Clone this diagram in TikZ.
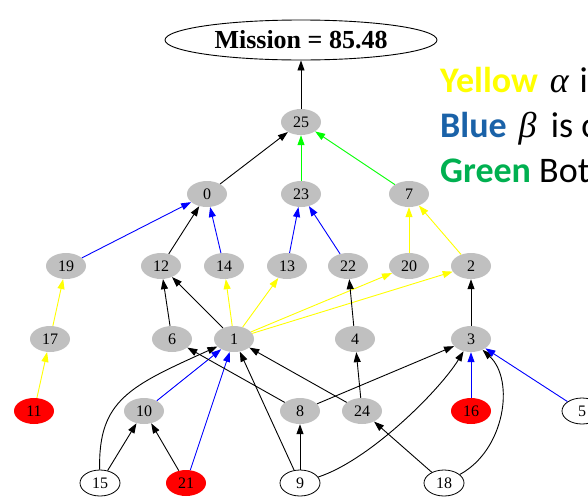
\documentclass[tikz,border=0pt]{standalone}
\usepackage{fontspec}
\setmainfont{Liberation Serif}
\newfontfamily\slidefont{Carlito}
\usepackage{tikz}
\usetikzlibrary{arrows.meta,shapes.geometric}
\definecolor{nodegray}{HTML}{C0C0C0}
\definecolor{edgeyellow}{HTML}{FFFF00}
\definecolor{edgeblue}{HTML}{0000FF}
\definecolor{edgegreen}{HTML}{00FF00}
\definecolor{keyyellow}{HTML}{FFFF00}
\definecolor{keyblue}{HTML}{1A62A8}
\definecolor{keygreen}{HTML}{00B050}

\begin{document}
\begin{tikzpicture}[
    x=1pt, y=-1pt,
    task/.style={ellipse, fill=nodegray, minimum width=40pt, minimum height=26pt, inner sep=0pt, font=\fontsize{16}{16}\selectfont},
    leaf/.style={task, fill=white, draw=black, line width=0.8pt},
    fault/.style={task, fill=red},
    mission/.style={ellipse, draw=black, fill=white, line width=0.9pt, minimum width=272pt, minimum height=40pt, inner sep=0pt, font=\fontsize{26}{26}\selectfont\bfseries},
    key/.style={anchor=base west, inner sep=0pt, font=\slidefont\fontsize{36}{36}\selectfont},
    arrow/.style={-{Triangle[length=10pt,width=7pt]}, line width=0.9pt, black},
    ylink/.style={arrow, edgeyellow},
    blink/.style={arrow, edgeblue},
    glink/.style={arrow, edgegreen}
]
    \useasboundingbox (0,0) rectangle (588,498);
    \clip (0,0) rectangle (588,498);

    \node[mission] (M) at (301,40) {Mission = 85.48};

    \node[task] (n25) at (301,122) {25};

    \node[task] (n0)  at (207,194) {0};
    \node[task] (n23) at (301,194) {23};
    \node[task] (n7)  at (409,194) {7};

    \node[task] (n19) at (66,266)  {19};
    \node[task] (n12) at (161,266) {12};
    \node[task] (n14) at (224,266) {14};
    \node[task] (n13) at (287,266) {13};
    \node[task] (n22) at (348,266) {22};
    \node[task] (n20) at (409,266) {20};
    \node[task] (n2)  at (471,266) {2};

    \node[task] (n17) at (50,339)  {17};
    \node[task] (n6)  at (172,339) {6};
    \node[task] (n1)  at (234,339) {1};
    \node[task] (n4)  at (355,339) {4};
    \node[task] (n3)  at (471,339) {3};

    \node[fault] (n11) at (34,411)  {11};
    \node[task]  (n10) at (144,411) {10};
    \node[task]  (n8)  at (300,411) {8};
    \node[task]  (n24) at (362,411) {24};
    \node[fault] (n16) at (471,411) {16};
    \node[leaf]  (n5)  at (582,411) {5};

    \node[leaf]  (n15) at (100,483) {15};
    \node[fault] (n21) at (186,483) {21};
    \node[leaf]  (n9)  at (300,483) {9};
    \node[leaf]  (n18) at (444,483) {18};

    % key, runs off the right edge
    \node[key] (kY) at (440,92)  {\textcolor{keyyellow}{\bfseries Yellow}\hspace{0.33em}{\rmfamily\itshape α}\hspace{0.3em}is};
    \node[key] (kB) at (440,137) {\textcolor{keyblue}{\bfseries Blue}\hspace{0.33em}{\rmfamily\itshape β}\hspace{0.4em}is c};
    \node[key] (kG) at (440,182) {\textcolor{keygreen}{\bfseries Green} Bot};

    % top levels
    \draw[arrow] (n25) -- (M);
    \draw[arrow] (n0) -- (n25);
    \draw[glink] (n23) -- (n25);
    \draw[glink] (n7) -- (n25);
    \draw[blink] (n19) -- (n0);
    \draw[arrow] (n12) -- (n0);
    \draw[blink] (n14) -- (n0);
    \draw[blink] (n13) -- (n23);
    \draw[blink] (n22) -- (n23);
    \draw[ylink] (n20) -- (n7);
    \draw[ylink] (n2) -- (n7);

    % middle
    \draw[ylink] (n17) -- (n19);
    \draw[ylink] (n11) -- (n17);
    \draw[arrow] (n6) -- (n12);
    \draw[arrow] (n1) -- (n12);
    \draw[ylink] (n1) -- (n14);
    \draw[ylink] (n1) -- (n13);
    \draw[ylink] (n1) -- (n20);
    \draw[ylink] (n1) -- (n2);
    \draw[arrow] (n4) -- (n22);
    \draw[arrow] (n3) -- (n2);

    % bottom
    \draw[arrow] (n15) .. controls (98,400) and (130,386) .. (n1);
    \draw[blink] (n10) -- (n1);
    \draw[blink] (n21) -- (n1);
    \draw[arrow] (n9) -- (n1);
    \draw[arrow] (n24) -- (n1);
    \draw[arrow] (n8) -- (n6);
    \draw[arrow] (n24) -- (n4);
    \draw[arrow] (n8) -- (n3);
    \draw[arrow] (n9) .. controls (370,460) and (440,390) .. (n3);
    \draw[blink] (n16) -- (n3);
    \draw[arrow] (n18) .. controls (505,450) and (515,380) .. (n3);
    \draw[blink] (n5) -- (n3);
    \draw[arrow] (n15) -- (n10);
    \draw[arrow] (n21) -- (n10);
    \draw[arrow] (n9) -- (n8);
    \draw[arrow] (n18) -- (n24);
\end{tikzpicture}
\end{document}
